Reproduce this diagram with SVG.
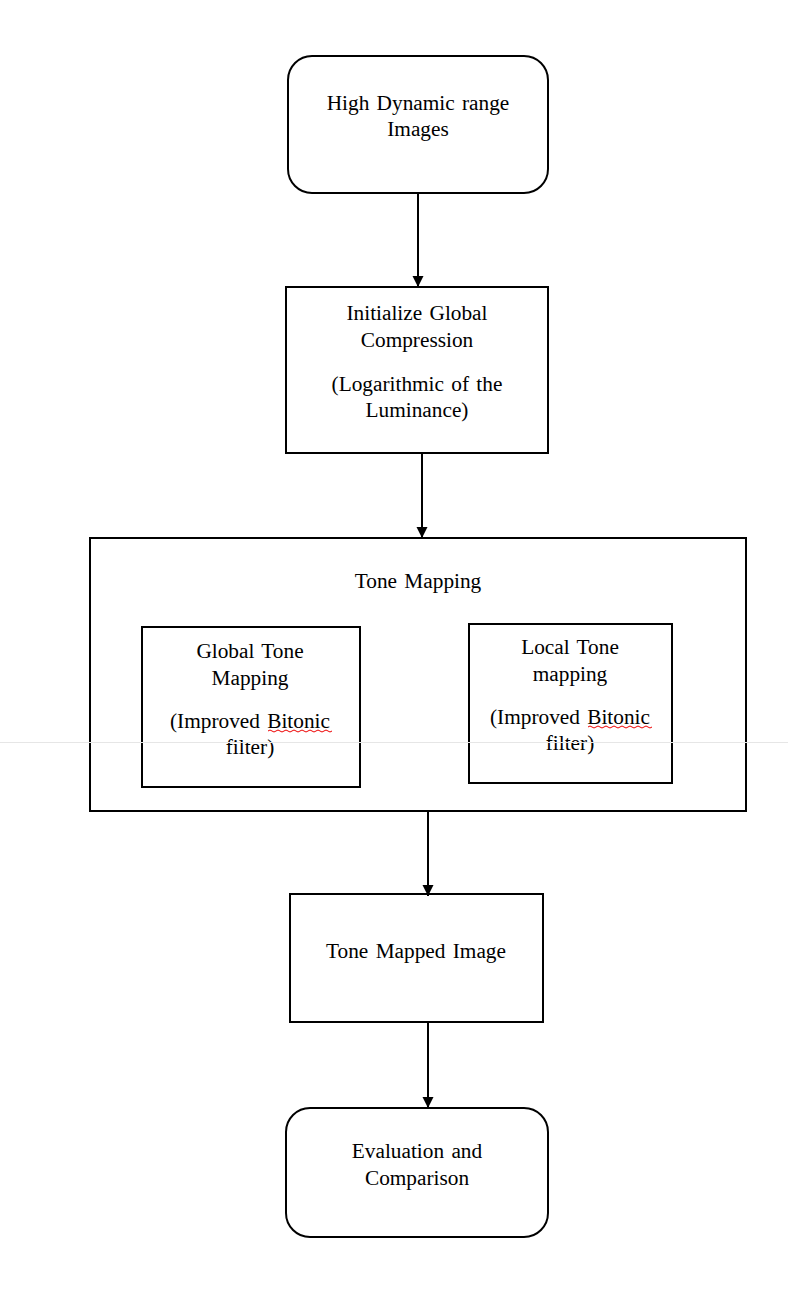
<svg xmlns="http://www.w3.org/2000/svg" width="788" height="1310" viewBox="0 0 788 1310">
<style>
.box{fill:#fff;stroke:#000;stroke-width:2}
.t{font-family:"Liberation Serif","Times New Roman",serif;font-size:21.3px;fill:#000;text-anchor:middle;word-spacing:2px}
.c{stroke:#000;stroke-width:2;fill:none}
.sq{stroke:#e00;stroke-width:1;fill:none}
</style>
<defs>
<marker id="ah" viewBox="0 0 10 10" refX="10" refY="5" markerWidth="11" markerHeight="12" markerUnits="userSpaceOnUse" orient="auto">
<path d="M0,0 L10,5 L0,10 Z" fill="#000"/>
</marker>
</defs>
<rect width="788" height="1310" fill="#fff"/>
<g id="hdr">
<rect class="box" x="288" y="56" width="260" height="137" rx="24"/>
<text class="t" x="418" y="110">High Dynamic range</text>
<text class="t" x="418" y="136">Images</text>
</g>
<g id="init">
<rect class="box" x="286" y="287" width="262" height="166"/>
<text class="t" x="417" y="320">Initialize Global</text>
<text class="t" x="417" y="347">Compression</text>
<text class="t" x="417" y="391">(Logarithmic of the</text>
<text class="t" x="417" y="417">Luminance)</text>
</g>
<g id="tonemapping">
<rect class="box" x="90" y="538" width="656" height="273"/>
<text class="t" x="418" y="588">Tone Mapping</text>
</g>
<g id="global">
<rect class="box" x="142" y="627" width="218" height="160"/>
<text class="t" x="250" y="658">Global Tone</text>
<text class="t" x="250" y="685">Mapping</text>
<text class="t" x="250" y="728">(Improved Bitonic</text>
<text class="t" x="250" y="754">filter)</text>
<path class="sq" d="M268,731 q2,-2 4,0 t4,0 t4,0 t4,0 t4,0 t4,0 t4,0 t4,0 t4,0 t4,0 t4,0 t4,0 t4,0 t4,0 t4,0 t4,0"/>
</g>
<g id="local">
<rect class="box" x="469" y="624" width="203" height="159"/>
<text class="t" x="570" y="654">Local Tone</text>
<text class="t" x="570" y="681">mapping</text>
<text class="t" x="570" y="724">(Improved Bitonic</text>
<text class="t" x="570" y="750">filter)</text>
<path class="sq" d="M588,727 q2,-2 4,0 t4,0 t4,0 t4,0 t4,0 t4,0 t4,0 t4,0 t4,0 t4,0 t4,0 t4,0 t4,0 t4,0 t4,0 t4,0"/>
</g>
<g id="tmi">
<rect class="box" x="290" y="894" width="253" height="128"/>
<text class="t" x="416" y="958">Tone Mapped Image</text>
</g>
<g id="eval">
<rect class="box" x="286" y="1108" width="262" height="129" rx="24"/>
<text class="t" x="417" y="1158">Evaluation and</text>
<text class="t" x="417" y="1185">Comparison</text>
</g>
<g id="connectors">
<line class="c" x1="418" y1="193" x2="418" y2="287" marker-end="url(#ah)"/>
<line class="c" x1="422" y1="453" x2="422" y2="538" marker-end="url(#ah)"/>
<line class="c" x1="428" y1="811" x2="428" y2="896" marker-end="url(#ah)"/>
<line class="c" x1="428" y1="1022" x2="428" y2="1108" marker-end="url(#ah)"/>
</g>
<line x1="0" y1="742.5" x2="788" y2="742.5" stroke="#e6e6e6" stroke-width="1"/>
</svg>
